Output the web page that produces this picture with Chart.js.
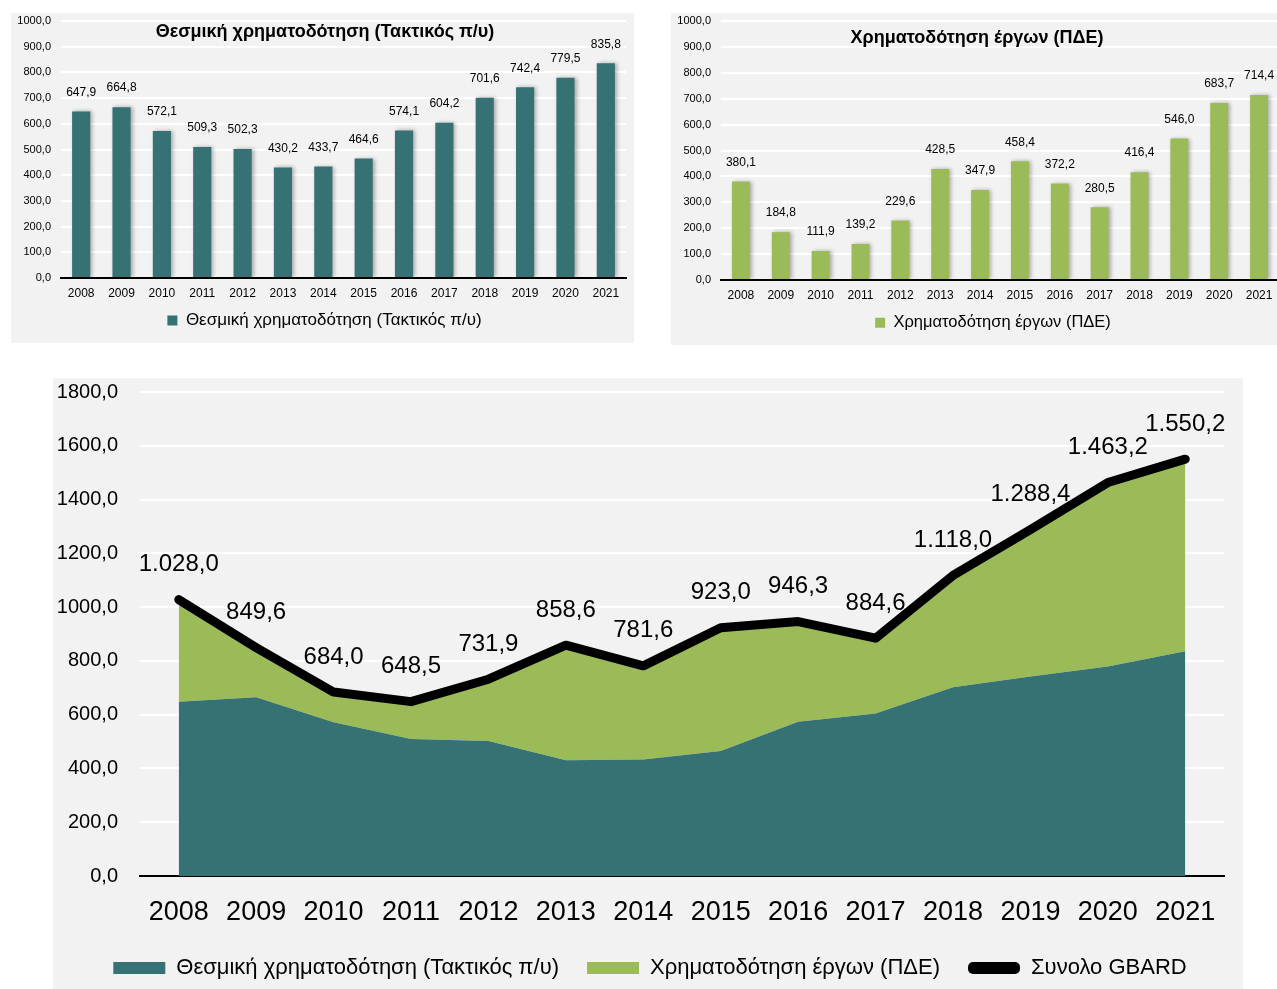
<!DOCTYPE html>
<html>
<head>
<meta charset="utf-8">
<script src="https://cdn.jsdelivr.net/npm/chart.js"></script>
<style>
	body { margin: 0; background: #fff; width: 1277px; height: 989px; position: relative; overflow: hidden; }
	.panel { position: absolute; background: #f2f2f2; overflow: hidden; }
	#p1 { left: 11px; top: 13px; width: 623px; height: 330px; }
	#p2 { left: 671px; top: 13px; width: 606px; height: 332px; }
	#p3 { left: 53px; top: 378px; width: 1190px; height: 611px; }
</style>
</head>
<body>
<div class="panel" id="p1"><canvas id="c1" width="623" height="330"></canvas></div>
<div class="panel" id="p2"><canvas id="c2" width="640" height="332"></canvas></div>
<div class="panel" id="p3"><canvas id="c3" width="1190" height="611"></canvas></div>
<script>
var years = ['2008', '2009', '2010', '2011', '2012', '2013', '2014', '2015', '2016', '2017', '2018', '2019', '2020', '2021'];
var thesmiki = [647.9, 664.8, 572.1, 509.3, 502.3, 430.2, 433.7, 464.6, 574.1, 604.2, 701.6, 742.4, 779.5, 835.8];
var erga = [380.1, 184.8, 111.9, 139.2, 229.6, 428.5, 347.9, 458.4, 372.2, 280.5, 416.4, 546.0, 683.7, 714.4];
var synolo = [1028.0, 849.6, 684.0, 648.5, 731.9, 858.6, 781.6, 923.0, 946.3, 884.6, 1118.0, 1288.4, 1463.2, 1550.2];
var seriesNames = ['Θεσμική χρηματοδότηση (Τακτικός π/υ)', 'Χρηματοδότηση έργων (ΠΔΕ)', 'Συνολο GBARD'];

var TEAL = '#367173';
var GREEN = '#9bbb59';
var NUM = 'Liberation Sans, Arial, sans-serif';

// 1028.0 -> "1.028,0"
function grNum(v, group) {
	var s = v.toFixed(1).split('.');
	var i = s[0];
	if (group) i = i.replace(/\B(?=(\d{3})+(?!\d))/g, '.');
	return i + ',' + s[1];
}

// fixed axis sizes so the plot areas line up with the original
function fixY(width) {
	return function (s) { s.width = width; s.paddingTop = 0; s.paddingBottom = 0; };
}
function fixX(height) {
	return function (s) { s.height = height; s.paddingLeft = 0; s.paddingRight = 0; };
}
// empty right-hand axis, only reserves space
function spacer(width) {
	return {
		type: 'linear', position: 'right', min: 0, max: 1,
		grid: { display: false, drawTicks: false },
		border: { display: false },
		ticks: { display: false },
		afterFit: fixY(width)
	};
}

var barShadow = {
	id: 'barShadow',
	beforeDatasetsDraw: function (chart) {
		var c = chart.ctx;
		c.save();
		c.shadowColor = 'rgba(0,0,0,0.3)';
		c.shadowBlur = 4;
		c.shadowOffsetX = 2;
	},
	afterDatasetsDraw: function (chart) {
		chart.ctx.restore();
	}
};

var valueLabels = {
	id: 'valueLabels',
	afterDatasetsDraw: function (chart, args, opts) {
		var idx = opts.dataset || 0;
		var meta = chart.getDatasetMeta(idx);
		var data = chart.data.datasets[idx].data;
		var ctx = chart.ctx;
		ctx.save();
		ctx.font = opts.font;
		ctx.fillStyle = '#000';
		ctx.textAlign = 'center';
		ctx.textBaseline = 'middle';
		meta.data.forEach(function (el, i) {
			ctx.fillText(grNum(data[i], opts.group), el.x, el.y - opts.offset);
		});
		ctx.restore();
	}
};

var panelTitle = {
	id: 'panelTitle',
	afterDraw: function (chart, args, opts) {
		var ctx = chart.ctx;
		ctx.save();
		ctx.font = opts.font;
		ctx.fillStyle = '#000';
		ctx.textAlign = 'center';
		ctx.textBaseline = 'middle';
		ctx.fillText(opts.text, opts.x, opts.y);
		ctx.restore();
	}
};

function smallBar(id, series, name, color, rightGap, xHeight, legendSize, title) {
	return new Chart(document.getElementById(id), {
		type: 'bar',
		data: {
			labels: years,
			datasets: [{
				label: name,
				data: series,
				backgroundColor: color,
				categoryPercentage: 1,
				barPercentage: 0.45
			}]
		},
		options: {
			responsive: false,
			animation: false,
			layout: { padding: { left: 4, right: 0, top: 8, bottom: 4 } },
			scales: {
				x: {
					grid: { display: false, drawTicks: false },
					border: { color: '#000', width: 2 },
					ticks: { color: '#000', font: { family: NUM, size: 12 }, padding: 8, maxRotation: 0, autoSkip: false },
					afterFit: fixX(xHeight)
				},
				y: {
					min: 0, max: 1000,
					grid: { color: '#ffffff', lineWidth: 2, drawTicks: false },
					border: { display: false },
					ticks: {
						stepSize: 100, color: '#000', padding: 10,
						font: { family: NUM, size: 11 },
						callback: function (v) { return grNum(v, false); }
					},
					afterFit: fixY(46)
				},
				yR: spacer(rightGap)
			},
			plugins: {
				legend: {
					position: 'bottom',
					labels: { boxWidth: 10, boxHeight: 10, color: '#000', padding: 8, font: { family: NUM, size: legendSize } }
				},
				tooltip: { enabled: false },
				valueLabels: { dataset: 0, offset: 19, font: '12px ' + NUM, group: false },
				panelTitle: title
			}
		},
		plugins: [barShadow, valueLabels, panelTitle]
	});
}

smallBar('c1', thesmiki, seriesNames[0], TEAL, 8, 26, 17,
	{ text: 'Θεσμική χρηματοδότηση (Τακτικός π/υ)', x: 314, y: 19, font: 'bold 18px ' + NUM });
smallBar('c2', erga, seriesNames[1], GREEN, 32, 26.5, 16.5,
	{ text: 'Χρηματοδότηση έργων (ΠΔΕ)', x: 306, y: 25, font: 'bold 18px ' + NUM });

new Chart(document.getElementById('c3'), {
	type: 'line',
	data: {
		labels: years,
		datasets: [{
			label: seriesNames[0],
			data: thesmiki,
			backgroundColor: TEAL,
			borderColor: TEAL,
			borderWidth: 0,
			pointRadius: 0,
			fill: 'origin',
			stack: 'parts',
			order: 1
		}, {
			label: seriesNames[1],
			data: erga,
			backgroundColor: GREEN,
			borderColor: GREEN,
			borderWidth: 0,
			pointRadius: 0,
			fill: '-1',
			stack: 'parts',
			order: 2
		}, {
			label: seriesNames[2],
			data: synolo,
			backgroundColor: '#000',
			borderColor: '#000',
			borderWidth: 9,
			borderCapStyle: 'round',
			borderJoinStyle: 'round',
			pointRadius: 0,
			fill: false,
			stack: 'total',
			order: 0
		}]
	},
	options: {
		responsive: false,
		animation: false,
		layout: { padding: { left: 4, right: 0, top: 14, bottom: 0 } },
		scales: {
			x: {
				offset: true,
				grid: { display: false, drawTicks: false },
				border: { color: '#000', width: 2 },
				ticks: { color: '#000', font: { family: NUM, size: 27 }, padding: 20, maxRotation: 0, autoSkip: false },
				afterFit: fixX(53)
			},
			y: {
				stacked: true,
				min: 0, max: 1800,
				grid: { color: '#ffffff', lineWidth: 2, drawTicks: false },
				border: { display: false },
				ticks: {
					stepSize: 200, color: '#000', padding: 22,
					font: { family: NUM, size: 20 },
					callback: function (v) { return grNum(v, false); }
				},
				afterFit: fixY(83)
			},
			yR: spacer(19)
		},
		plugins: {
			legend: {
				position: 'bottom',
				labels: {
					boxWidth: 52, boxHeight: 12, color: '#000', padding: 28,
					useBorderRadius: true,
					font: { family: NUM, size: 22 },
					generateLabels: function (chart) {
						var items = Chart.defaults.plugins.legend.labels.generateLabels(chart);
						items.forEach(function (it) {
							it.lineWidth = 0;
							it.strokeStyle = 'rgba(0,0,0,0)';
							it.borderRadius = it.datasetIndex === 2 ? 5 : 0;
						});
						return items.sort(function (a, b) { return a.datasetIndex - b.datasetIndex; });
					}
				}
			},
			tooltip: { enabled: false },
			valueLabels: { dataset: 2, offset: 35, font: '24px ' + NUM, group: true }
		}
	},
	plugins: [valueLabels]
});
</script>
</body>
</html>
